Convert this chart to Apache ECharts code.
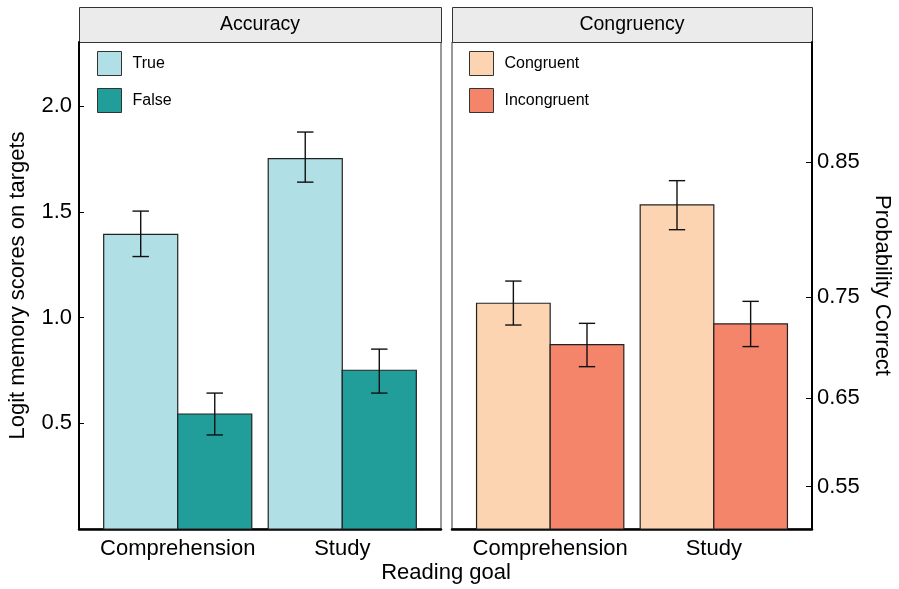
<!DOCTYPE html>
<html>
<head>
<meta charset="utf-8">
<script src="https://cdn.jsdelivr.net/npm/echarts@6/dist/echarts.min.js"></script>
<style>html,body{margin:0;padding:0;background:#fff}#c{width:899px;height:589px}</style>
</head>
<body>
<div id="c"></div>
<script>
const categories = ['Comprehension', 'Study'];
const panelTitles = ['Accuracy', 'Congruency'];

const trueVals = [1.394, 1.752];
const trueLo = [1.289, 1.641];
const trueHi = [1.504, 1.878];

const falseVals = [0.544, 0.751];
const falseLo = [0.445, 0.643];
const falseHi = [0.643, 0.851];

const congruentVals = [1.068, 1.533];
const congruentLo = [0.965, 1.416];
const congruentHi = [1.173, 1.648];

const incongruentVals = [0.872, 0.970];
const incongruentLo = [0.768, 0.863];
const incongruentHi = [0.973, 1.077];

const logitTicks = [0.5, 1.0, 1.5, 2.0];
const probTicks = [0.55, 0.65, 0.75, 0.85];

const FONT = "'Liberation Sans', Arial, sans-serif";
const colors = { True: '#B0DFE5', False: '#229E9A', Congruent: '#FDD4B1', Incongruent: '#F4846A' };

function rows(vals, lo, hi) {
  return categories.map((c, i) => [i + 1, vals[i], lo[i], hi[i]]);
}

function barSeries(name, idx, dodge, vals, lo, hi) {
  const fill = colors[name];
  return {
    type: 'custom', name: name, xAxisIndex: idx, yAxisIndex: idx,
    itemStyle: { color: fill },
    encode: { x: 0, y: 1 },
    data: rows(vals, lo, hi),
    renderItem: function (params, api) {
      const x = api.value(0) + dodge;
      const v = api.value(1), l = api.value(2), h = api.value(3);
      const a = api.coord([x - 0.225, v]);
      const b = api.coord([x + 0.225, 0]);
      const top = api.coord([x, h]);
      const bot = api.coord([x, l]);
      const cl = api.coord([x - 0.05, h]);
      const cr = api.coord([x + 0.05, h]);
      const stroke = { stroke: '#111', lineWidth: 1.4 };
      return {
        type: 'group',
        children: [
          { type: 'rect', shape: { x: a[0], y: a[1], width: b[0] - a[0], height: b[1] - a[1] },
            style: { fill: fill, stroke: '#222', lineWidth: 1.2 } },
          { type: 'line', shape: { x1: top[0], y1: top[1], x2: bot[0], y2: bot[1] }, style: stroke },
          { type: 'line', shape: { x1: cl[0], y1: top[1], x2: cr[0], y2: top[1] }, style: stroke },
          { type: 'line', shape: { x1: cl[0], y1: bot[1], x2: cr[0], y2: bot[1] }, style: stroke }
        ]
      };
    }
  };
}

function xAxisFor(idx) {
  return {
    type: 'value', gridIndex: idx, min: 0.4, max: 2.6,
    axisLine: { show: true, onZero: false, lineStyle: { color: '#000', width: 2.5 } },
    axisTick: { show: false },
    splitLine: { show: false },
    axisLabel: {
      customValues: [1, 2], margin: 9,
      formatter: v => categories[Math.round(v) - 1],
      fontSize: 22, color: '#000', fontFamily: FONT
    }
  };
}

function legendFor(idx, left, names) {
  return {
    left: left, top: 51, orient: 'vertical', padding: 0,
    itemWidth: 24, itemHeight: 24, itemGap: 12, icon: 'rect',
    selectedMode: false,
    textStyle: { fontSize: 16, color: '#000', fontFamily: FONT, padding: [0, 0, 0, 6] },
    data: names.map(n => ({ name: n, itemStyle: { color: colors[n], borderColor: '#333', borderWidth: 1 } }))
  };
}

const panels = [{ left: 79, width: 362 }, { left: 452, width: 360 }];
const gTop = 42, gHeight = 487;

const graphics = [];
panels.forEach((p, i) => {
  graphics.push({ type: 'rect', left: p.left, top: 7, shape: { width: p.width, height: 35 },
    style: { fill: '#EBEBEB', stroke: '#333', lineWidth: 1 } });
  graphics.push({ type: 'text', x: p.left + p.width / 2, y: 25,
    style: { text: panelTitles[i], fontSize: 19.5, fontFamily: FONT, fill: '#000', align: 'center', verticalAlign: 'middle' } });
});
graphics.push({ type: 'text', x: 446, y: 573,
  style: { text: 'Reading goal', fontSize: 22, fontFamily: FONT, fill: '#000', align: 'center', verticalAlign: 'middle' } });

const probPositions = probTicks.map(p => Math.log(p / (1 - p)));

const option = {
  animation: false,
  backgroundColor: '#fff',
  grid: panels.map(p => ({ left: p.left, top: gTop, width: p.width, height: gHeight,
    show: true, borderColor: '#333', borderWidth: 1, backgroundColor: '#fff', containLabel: false })),
  xAxis: [xAxisFor(0), xAxisFor(1)],
  yAxis: [
    {
      type: 'value', gridIndex: 0, min: 0, max: 2.304, position: 'left',
      name: 'Logit memory scores on targets', nameLocation: 'middle', nameGap: 50,
      nameTextStyle: { fontSize: 22, color: '#000', fontFamily: FONT },
      axisLine: { show: true, onZero: false, lineStyle: { color: '#000', width: 2 } },
      axisTick: { show: true, inside: true, customValues: logitTicks, length: 5, lineStyle: { color: '#000', width: 1 } },
      splitLine: { show: false },
      axisLabel: { customValues: logitTicks, formatter: v => v.toFixed(1), fontSize: 22, color: '#000', fontFamily: FONT, margin: 7 }
    },
    {
      type: 'value', gridIndex: 1, min: 0, max: 2.304, position: 'right',
      name: 'Probability Correct', nameLocation: 'middle', nameGap: 59, nameRotate: -90,
      nameTextStyle: { fontSize: 22, color: '#000', fontFamily: FONT },
      axisLine: { show: true, onZero: false, lineStyle: { color: '#000', width: 2 } },
      axisTick: { show: true, inside: true, customValues: probPositions, length: 6, lineStyle: { color: '#000', width: 1 } },
      splitLine: { show: false },
      axisLabel: { customValues: probPositions,
        formatter: v => (1 / (1 + Math.exp(-v))).toFixed(2), fontSize: 22, color: '#000', fontFamily: FONT, margin: 5 }
    }
  ],
  legend: [legendFor(0, 97, ['True', 'False']), legendFor(1, 469, ['Congruent', 'Incongruent'])],
  series: [
    barSeries('True', 0, -0.225, trueVals, trueLo, trueHi),
    barSeries('False', 0, 0.225, falseVals, falseLo, falseHi),
    barSeries('Congruent', 1, -0.225, congruentVals, congruentLo, congruentHi),
    barSeries('Incongruent', 1, 0.225, incongruentVals, incongruentLo, incongruentHi)
  ],
  graphic: graphics
};

const chart = echarts.init(document.getElementById('c'), null, { renderer: 'canvas' });
chart.setOption(option);
</script>
</body>
</html>
